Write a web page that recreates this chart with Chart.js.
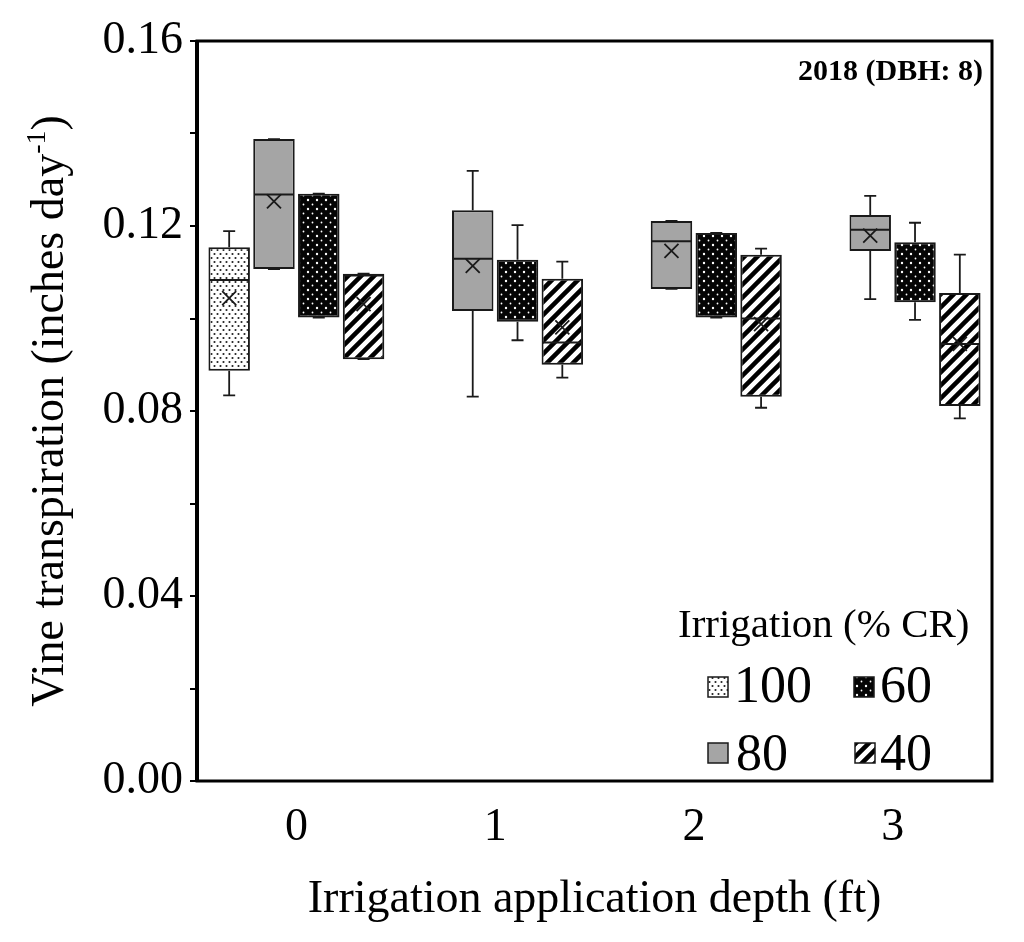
<!DOCTYPE html>
<html>
<head>
<meta charset="utf-8">
<script src="https://cdn.jsdelivr.net/npm/chart.js@4.4.1/dist/chart.umd.min.js"></script>
<style>
  html, body { margin: 0; padding: 0; background: #fff; }
  #wrap { width: 1024px; height: 942px; }
</style>
</head>
<body>
<div id="wrap"><canvas id="boxChart"></canvas></div>
<script>
// categories and series
const depthLabels = ['0', '1', '2', '3'];
const seriesNames = ['100', '80', '60', '40'];

// 100 % CR (only measured at 0 ft)
const cr100Min = [0.0834, null, null, null];
const cr100Q1 = [0.0887, null, null, null];
const cr100Median = [0.1083, null, null, null];
const cr100Mean = [0.1044, null, null, null];
const cr100Q3 = [0.1154, null, null, null];
const cr100Max = [0.1189, null, null, null];

// 80 % CR
const cr80Min = [0.1107, 0.0831, 0.1064, 0.1042];
const cr80Q1 = [0.1107, 0.1016, 0.1064, 0.1146];
const cr80Median = [0.1268, 0.1129, 0.1167, 0.1192];
const cr80Mean = [0.1253, 0.1114, 0.1146, 0.1179];
const cr80Q3 = [0.1388, 0.1234, 0.1211, 0.1224];
const cr80Max = [0.1388, 0.1319, 0.1211, 0.1265];

// 60 % CR (median / mean hidden in the black box, estimated)
const cr60Min = [0.1002, 0.0953, 0.1002, 0.0997];
const cr60Q1 = [0.1002, 0.0993, 0.1002, 0.1035];
const cr60Median = [0.1130, 0.1060, 0.1090, 0.1100];
const cr60Mean = [0.1130, 0.1060, 0.1090, 0.1100];
const cr60Q3 = [0.1270, 0.1127, 0.1185, 0.1165];
const cr60Max = [0.1270, 0.1202, 0.1185, 0.1207];

// 40 % CR
const cr40Min = [0.0912, 0.0872, 0.0807, 0.0784];
const cr40Q1 = [0.0912, 0.0900, 0.0831, 0.0811];
const cr40Median = [0.1093, 0.0948, 0.1000, 0.0945];
const cr40Mean = [0.1031, 0.0981, 0.0988, 0.0945];
const cr40Q3 = [0.1097, 0.1086, 0.1138, 0.1055];
const cr40Max = [0.1097, 0.1123, 0.1151, 0.1138];

const seriesStats = [
    { min: cr100Min, q1: cr100Q1, median: cr100Median, mean: cr100Mean, q3: cr100Q3, max: cr100Max },
    { min: cr80Min, q1: cr80Q1, median: cr80Median, mean: cr80Mean, q3: cr80Q3, max: cr80Max },
    { min: cr60Min, q1: cr60Q1, median: cr60Median, mean: cr60Mean, q3: cr60Q3, max: cr60Max },
    { min: cr40Min, q1: cr40Q1, median: cr40Median, mean: cr40Mean, q3: cr40Q3, max: cr40Max }
];

const serif = "'Liberation Serif', 'Times New Roman', serif";
const ink = '#1a1a1a';
// the black-filled boxes hide their median and mean marks
const showMarks = [true, true, false, true];

const canvas = document.getElementById('boxChart');
const mainCtx = canvas.getContext('2d');

function dot(g, x, y, r) {
    g.beginPath();
    g.arc(x, y, r, 0, Math.PI * 2);
    g.fill();
}

function makePattern(kind) {
    const tile = document.createElement('canvas');
    let g;
    if (kind === 'light') {
        tile.width = 6; tile.height = 8;
        g = tile.getContext('2d');
        g.fillStyle = '#fff';
        g.fillRect(0, 0, 6, 8);
        g.fillStyle = '#1e1e1e';
        dot(g, 1.5, 2, 1.05);
        dot(g, 4.5, 6, 1.05);
    } else if (kind === 'dark') {
        tile.width = 9; tile.height = 9;
        g = tile.getContext('2d');
        g.fillStyle = '#050505';
        g.fillRect(0, 0, 9, 9);
        g.fillStyle = '#fff';
        dot(g, 2, 2, 1.2);
        dot(g, 6.5, 6.5, 0.9);
    } else {
        const s = 13;
        tile.width = s; tile.height = s;
        g = tile.getContext('2d');
        g.fillStyle = '#fff';
        g.fillRect(0, 0, s, s);
        g.strokeStyle = '#000';
        g.lineWidth = 4.5;
        g.beginPath();
        g.moveTo(0, s); g.lineTo(s, 0);
        g.moveTo(-2, 2); g.lineTo(2, -2);
        g.moveTo(s - 2, s + 2); g.lineTo(s + 2, s - 2);
        g.stroke();
    }
    return mainCtx.createPattern(tile, 'repeat');
}

const seriesFills = [makePattern('light'), '#a5a5a5', makePattern('dark'), makePattern('stripes')];

const datasets = seriesNames.map((name, i) => ({
    label: name,
    data: seriesStats[i].q1.map((v, j) => v === null ? null : [v, seriesStats[i].q3[j]]),
    backgroundColor: seriesFills[i],
    borderColor: ink,
    borderWidth: 2,
    borderSkipped: false,
    categoryPercentage: 0.9016,
    barPercentage: 0.926
}));

// whiskers, medians, means, frame, texts and legend
const boxExtras = {
    id: 'boxExtras',
    afterDatasetsDraw(chart) {
        const ctx = chart.ctx;
        const y = chart.scales.y;
        const area = chart.chartArea;
        ctx.save();
        ctx.strokeStyle = ink;
        chart.data.datasets.forEach((ds, i) => {
            const st = seriesStats[i];
            const meta = chart.getDatasetMeta(i);
            meta.data.forEach((bar, j) => {
                if (st.q1[j] === null) return;
                const x = bar.x;
                const half = bar.width / 2;
                const cap = 6;
                const pMin = y.getPixelForValue(st.min[j]);
                const pQ1 = y.getPixelForValue(st.q1[j]);
                const pQ3 = y.getPixelForValue(st.q3[j]);
                const pMax = y.getPixelForValue(st.max[j]);
                const pMed = y.getPixelForValue(st.median[j]);
                const pMean = y.getPixelForValue(st.mean[j]);
                ctx.lineWidth = 1.8;
                ctx.beginPath();
                ctx.moveTo(x, pQ3); ctx.lineTo(x, pMax);
                ctx.moveTo(x - cap, pMax); ctx.lineTo(x + cap, pMax);
                ctx.moveTo(x, pQ1); ctx.lineTo(x, pMin);
                ctx.moveTo(x - cap, pMin); ctx.lineTo(x + cap, pMin);
                ctx.stroke();
                if (!showMarks[i]) return;
                ctx.lineWidth = 2;
                ctx.beginPath();
                ctx.moveTo(x - half + 1, pMed); ctx.lineTo(x + half - 1, pMed);
                ctx.stroke();
                const m = 7;
                ctx.lineWidth = 1.8;
                ctx.beginPath();
                ctx.moveTo(x - m, pMean - m); ctx.lineTo(x + m, pMean + m);
                ctx.moveTo(x - m, pMean + m); ctx.lineTo(x + m, pMean - m);
                ctx.stroke();
            });
        });

        // plot frame
        ctx.lineWidth = 3;
        ctx.strokeStyle = '#000';
        ctx.strokeRect(area.left, area.top, area.right - area.left, area.bottom - area.top);
        ctx.lineWidth = 4;
        ctx.beginPath();
        ctx.moveTo(area.left, area.top);
        ctx.lineTo(area.left, area.bottom);
        ctx.stroke();

        // year label
        ctx.fillStyle = '#000';
        ctx.font = 'bold 30px ' + serif;
        ctx.textAlign = 'right';
        ctx.textBaseline = 'alphabetic';
        ctx.fillText('2018 (DBH: 8)', area.right - 9, area.top + 39);

        // legend
        ctx.textAlign = 'left';
        ctx.font = '41px ' + serif;
        ctx.fillText('Irrigation (% CR)', 678, 637);
        const legendSlots = [
            { i: 0, x: 708, y: 677, tx: 734, ty: 702 },
            { i: 2, x: 854, y: 677, tx: 880, ty: 702 },
            { i: 1, x: 708, y: 743, tx: 736, ty: 770 },
            { i: 3, x: 855, y: 743, tx: 880, ty: 770 }
        ];
        legendSlots.forEach(s => {
            ctx.fillStyle = seriesFills[s.i];
            ctx.fillRect(s.x, s.y, 20, 20);
            ctx.lineWidth = 1.5;
            ctx.strokeStyle = ink;
            ctx.strokeRect(s.x, s.y, 20, 20);
            ctx.fillStyle = '#000';
            ctx.font = '52px ' + serif;
            ctx.fillText(seriesNames[s.i], s.tx, s.ty);
        });

        // y axis title with superscript
        const main = 'Vine transpiration (inches day';
        const sup = '-1';
        const tail = ')';
        ctx.font = '46px ' + serif;
        const wMain = ctx.measureText(main).width;
        const wTail = ctx.measureText(tail).width;
        ctx.font = '28px ' + serif;
        const wSup = ctx.measureText(sup).width;
        const total = wMain + wSup + wTail;
        ctx.translate(63, (area.top + area.bottom) / 2);
        ctx.rotate(-Math.PI / 2);
        let cx = -total / 2;
        ctx.font = '46px ' + serif;
        ctx.fillText(main, cx, 0);
        cx += wMain;
        ctx.font = '28px ' + serif;
        ctx.fillText(sup, cx, -18);
        cx += wSup;
        ctx.font = '46px ' + serif;
        ctx.fillText(tail, cx, 0);
        ctx.restore();
    }
};

new Chart(mainCtx, {
    type: 'bar',
    data: {
        labels: depthLabels,
        datasets: datasets
    },
    options: {
        responsive: true,
        maintainAspectRatio: false,
        animation: false,
        layout: {
            padding: { top: 41, right: 32, left: 0, bottom: 0 }
        },
        plugins: {
            legend: { display: false },
            tooltip: { enabled: false }
        },
        scales: {
            x: {
                grid: { display: false, drawTicks: false },
                border: { display: false },
                ticks: {
                    color: '#000',
                    padding: 19,
                    font: { family: serif, size: 46 }
                },
                title: {
                    display: true,
                    text: 'Irrigation application depth (ft)',
                    color: '#000',
                    font: { family: serif, size: 46 },
                    padding: { top: 0, bottom: 14 }
                },
                afterFit: scale => { scale.height = 161; }
            },
            y: {
                min: 0,
                max: 0.16,
                grid: {
                    display: true,
                    drawOnChartArea: false,
                    drawTicks: true,
                    tickLength: 7,
                    color: '#000',
                    lineWidth: 2
                },
                border: { display: false },
                ticks: {
                    stepSize: 0.02,
                    color: '#000',
                    padding: 7,
                    font: { family: serif, size: 46 },
                    callback: v => (Math.round(v * 100) % 4 === 0 ? v.toFixed(2) : '')
                },
                afterFit: scale => { scale.width = 197; }
            }
        }
    },
    plugins: [boxExtras]
});
</script>
</body>
</html>
